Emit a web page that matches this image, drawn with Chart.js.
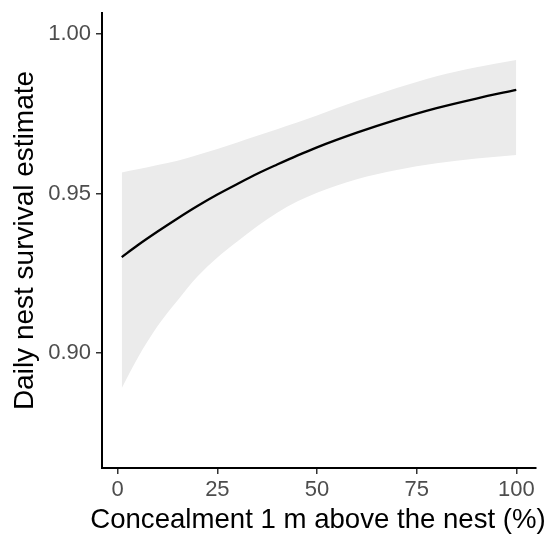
<!DOCTYPE html>
<html>
<head>
<meta charset="utf-8">
<script src="https://cdn.jsdelivr.net/npm/chart.js@4/dist/chart.umd.min.js"></script>
<style>
  body { margin: 0; background: white; }
  #wrap { width: 553px; height: 535px; }
</style>
</head>
<body>
<div id="wrap"><canvas id="myChart" width="553" height="535"></canvas></div>
<script>
// concealment (%) where the curve was read
const concealment = [1, 5, 10, 15, 20, 25, 30, 35, 40, 45, 50, 60, 70, 80, 90, 100];
// daily nest survival estimate
const estimate = [0.9301, 0.9338, 0.9381, 0.9422, 0.9461, 0.9497, 0.9530, 0.9562, 0.9591, 0.9619, 0.9645, 0.9691, 0.9732, 0.9768, 0.9798, 0.9825];
// confidence band
const lower = [0.8890, 0.8985, 0.9085, 0.9165, 0.9240, 0.9300, 0.9350, 0.9398, 0.9440, 0.9475, 0.9503, 0.9545, 0.9574, 0.9595, 0.9610, 0.9621];
const upper = [0.9566, 0.9576, 0.9590, 0.9603, 0.9621, 0.9640, 0.9660, 0.9681, 0.9702, 0.9723, 0.9745, 0.9790, 0.9831, 0.9868, 0.9896, 0.9919];

const xTicks = [0, 25, 50, 75, 100];
const yTicks = [0.90, 0.95, 1.00];

const xTitle = "Concealment 1 m above the nest (%)";
const yTitle = "Daily nest survival estimate";

const toPoints = (ys) => concealment.map((x, i) => ({ x: x, y: ys[i] }));

const fontName = "'Liberation Sans', Arial, sans-serif";

// chart.js squeezes the axis title to the axis width, so draw it by hand
const xTitlePlugin = {
    id: "xTitle",
    afterDraw(chart) {
        const ctx = chart.ctx;
        const area = chart.chartArea;
        ctx.save();
        ctx.font = "27.6px " + fontName;
        ctx.fillStyle = "#000000";
        ctx.textAlign = "center";
        ctx.textBaseline = "alphabetic";
        ctx.fillText(xTitle, (area.left + area.right) / 2 - 1, 528);
        ctx.restore();
    }
};

// line first so it is drawn on top of the band
const data = {
    datasets: [
        {
            label: "estimate",
            data: toPoints(estimate),
            borderColor: "#000000",
            borderWidth: 2.3,
            pointRadius: 0,
            fill: false,
            cubicInterpolationMode: "monotone"
        },
        {
            label: "lower",
            data: toPoints(lower),
            borderWidth: 0,
            borderColor: "rgba(0,0,0,0)",
            pointRadius: 0,
            fill: false,
            cubicInterpolationMode: "monotone"
        },
        {
            label: "upper",
            data: toPoints(upper),
            borderWidth: 0,
            borderColor: "rgba(0,0,0,0)",
            pointRadius: 0,
            backgroundColor: "#ebebeb",
            fill: "-1",
            cubicInterpolationMode: "monotone"
        }
    ]
};

const config = {
    type: "line",
    data,
    plugins: [xTitlePlugin],
    options: {
        responsive: false,
        animation: false,
        layout: { padding: { left: 0, right: 17, top: 13, bottom: 0 } },
        plugins: { legend: { display: false }, tooltip: { enabled: false } },
        scales: {
            x: {
                type: "linear",
                min: -3.95,
                max: 104.95,
                afterBuildTicks: (scale) => { scale.ticks = xTicks.map(v => ({ value: v })); },
                afterFit: (scale) => { scale.height = 67; scale.paddingLeft = 0; scale.paddingRight = 0; },
                border: { display: true, color: "#000000", width: 2 },
                grid: { display: true, drawOnChartArea: false, drawTicks: true, tickLength: 6, color: "#333333", lineWidth: 1.5 },
                ticks: { color: "#4d4d4d", font: { family: fontName, size: 22 }, padding: 3, maxRotation: 0 },
                title: { display: false }
            },
            y: {
                min: 0.864,
                max: 1.0066,
                afterBuildTicks: (scale) => { scale.ticks = yTicks.map(v => ({ value: v })); },
                afterFit: (scale) => { scale.width = 102; scale.paddingTop = 0; scale.paddingBottom = 0; },
                border: { display: true, color: "#000000", width: 2 },
                grid: { display: true, drawOnChartArea: false, drawTicks: true, tickLength: 6, color: "#333333", lineWidth: 1.5 },
                ticks: { color: "#4d4d4d", font: { family: fontName, size: 22 }, padding: 5, callback: (v) => v.toFixed(2) },
                title: { display: true, text: yTitle, color: "#000000", font: { family: fontName, size: 28 }, padding: { top: 8, bottom: 4 } }
            }
        }
    }
};

const chart = new Chart(document.querySelector("#myChart"), config);
</script>
</body>
</html>
